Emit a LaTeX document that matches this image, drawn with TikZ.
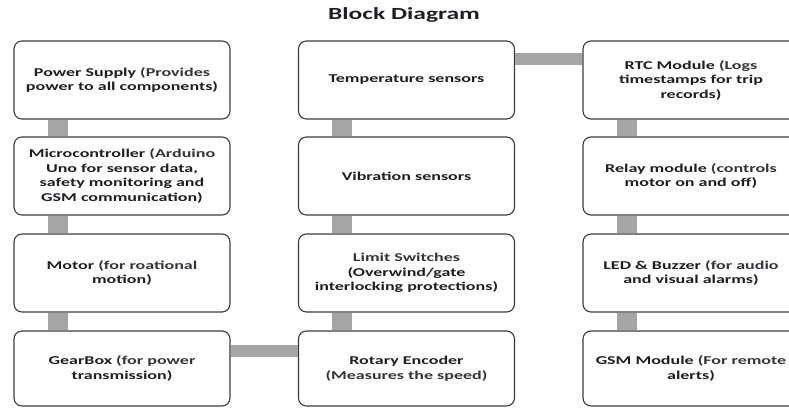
\documentclass[tikz,border=0pt]{standalone}
\usepackage{fontspec}
\setmainfont{Carlito}[FakeStretch=1.5]
\definecolor{barcol}{HTML}{A5A5A5}
\definecolor{edgecol}{HTML}{3C3C3C}
\definecolor{inkcol}{HTML}{1E1E24}
\definecolor{notecol}{HTML}{34343A}

% switch to the softer colour used for the descriptions
\newcommand{\desc}{\color{notecol}}

\begin{document}
\begin{tikzpicture}[x=1pt,y=-1pt,
  block/.style={draw=edgecol, line width=1.1pt, fill=white, rounded corners=8pt,
    minimum width=216pt, minimum height=78pt, align=center, text=inkcol,
    font=\bfseries\fontsize{12}{14.5}\selectfont, inner sep=0pt},
  lowblock/.style={block, minimum height=75pt},
  vlink/.style={draw=barcol, line width=20pt},
  hlink/.style={draw=barcol, line width=12pt},
  heading/.style={font=\bfseries\fontsize{17}{20}\selectfont, text=inkcol}]
\useasboundingbox (0,0) rectangle (789,409);
\clip (0,0) rectangle (789,409);

\node[heading] (title) at (404,15) {Block Diagram};

% left column: power and drive train
\node[block] (ps) at (122,80) {Power Supply \desc(Provides\\power to all components)};
\node[block] (mc) at (122,176) {Microcontroller \desc(Arduino\\Uno for sensor data,\\safety monitoring and\\GSM communication)};
\node[block] (mo) at (122,273) {Motor \desc(for roational\\motion)};
\node[lowblock] (gb) at (122,368.5) {GearBox \desc(for power\\transmission)};

% middle column: sensing
\node[block] (ts) at (406.5,80) {Temperature sensors};
\node[block] (vs) at (406.5,176) {Vibration sensors};
\node[block] (ls) at (406.5,273) {\desc Limit Switches\\(Overwind/gate\\interlocking protections)};
\node[lowblock] (re) at (406.5,368.5) {Rotary Encoder\\\desc(Measures the speed)};

% right column: outputs and logging
\node[block] (rtc) at (691,80) {RTC Module \desc(Logs\\timestamps for trip\\records)};
\node[block] (rl) at (691,176) {Relay module \desc(controls\\motor on and off)};
\node[block] (led) at (691,273) {LED \& Buzzer \desc(for audio\\and visual alarms)};
\node[lowblock] (gsm) at (691,368.5) {GSM Module \desc(For remote\\alerts)};

% vertical links inside each column
\foreach \a/\b in {ps/mc, mc/mo, mo/gb, ts/vs, vs/ls, ls/re, rtc/rl, rl/led, led/gsm}
  \draw[vlink] ([xshift=44.5pt]\a.south west) -- ([xshift=44.5pt]\b.north west);

% horizontal links between columns
\draw[hlink] ([yshift=-18.5pt]ts.north east) -- ([yshift=-18.5pt]rtc.north west);
\draw[hlink] ([yshift=-20.5pt]gb.north east) -- ([yshift=-20.5pt]re.north west);
\end{tikzpicture}
\end{document}
